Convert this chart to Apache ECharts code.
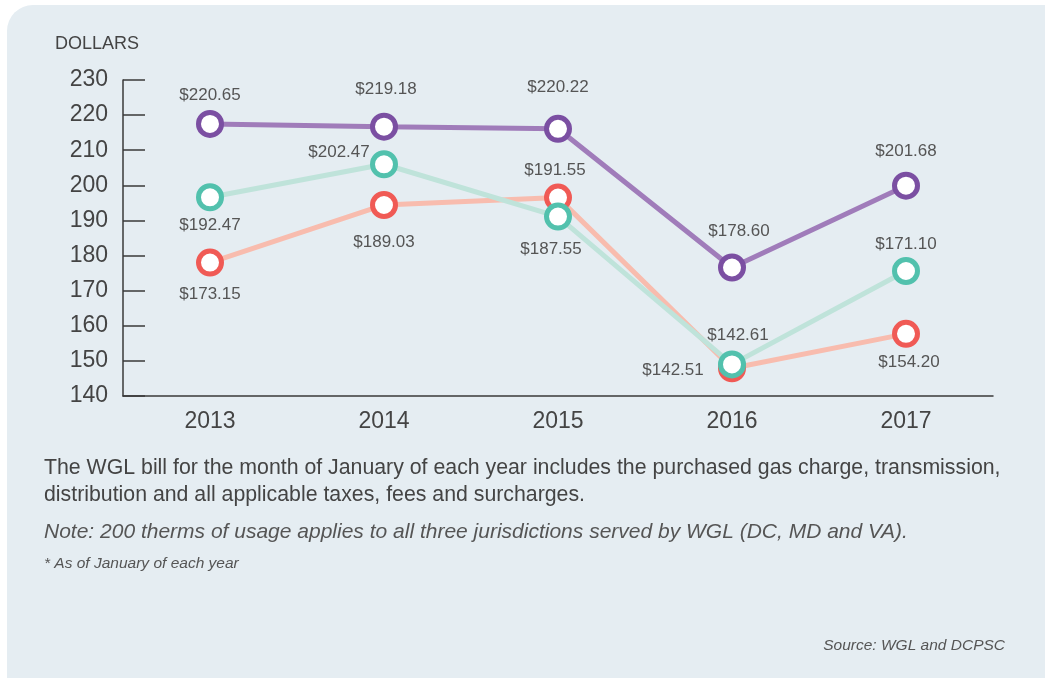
<!DOCTYPE html>
<html>
<head>
<meta charset="utf-8">
<script src="https://cdn.jsdelivr.net/npm/echarts@6/dist/echarts.min.js"></script>
<style>
  html, body { margin: 0; padding: 0; background: #ffffff; overflow: hidden; }
  .panel {
    position: absolute; left: 7px; top: 5px; width: 1080px; height: 720px;
    background: #e5edf2; border-radius: 26px;
  }
  #myLineChart { position: absolute; left: 0; top: 0; }
</style>
</head>
<body>
<div class="panel"></div>
<div id="myLineChart" style="width:1045px;height:678px;"></div>
<script>
  // data
  var years = ['2013', '2014', '2015', '2016', '2017'];
  var yTicks = [140, 150, 160, 170, 180, 190, 200, 210, 220, 230];

  // plotted positions
  var purpleData = [217.5, 216.7, 216.1, 176.6, 199.9];
  var tealData = [196.6, 206.0, 191.1, 149.0, 175.6];
  var redData = [178.0, 194.4, 196.5, 147.9, 157.7];

  // printed labels
  var purpleLabels = ['$220.65', '$219.18', '$220.22', '$178.60', '$201.68'];
  var tealLabels = ['$192.47', '$202.47', '$187.55', '$142.61', '$171.10'];
  var redLabels = ['$173.15', '$189.03', '$191.55', '$142.51', '$154.20'];

  // label placement (style, px from the point)
  var purpleOffs = [[0, -29], [2, -37], [0, -41], [7, -36], [0, -34]];
  var tealOffs = [[0, 28], [-45, -12], [-7, 33], [6, -29], [0, -27]];
  var redOffs = [[0, 32], [0, 37], [-3, -27], [-59, 2], [3, 28]];

  var FONT = '"Liberation Sans", Arial, sans-serif';

  function build(vals, texts, offs) {
    return vals.map(function (v, i) {
      return { value: v, label: { formatter: texts[i], offset: offs[i] } };
    });
  }

  function makeSeries(name, vals, texts, offs, dark, light) {
    return {
      name: name,
      type: 'line',
      data: build(vals, texts, offs),
      symbol: 'circle',
      symbolSize: 23,
      lineStyle: { width: 5, color: light },
      itemStyle: { color: '#ffffff', borderColor: dark, borderWidth: 5 },
      label: {
        show: true,
        position: 'inside',
        color: '#555555',
        fontSize: 17,
        fontFamily: FONT
      },
      emphasis: { disabled: true },
      animation: false
    };
  }

  var myLineChart = echarts.init(document.getElementById('myLineChart'));
  myLineChart.setOption({
    backgroundColor: 'transparent',
    grid: { left: 123, right: 52, top: 80, bottom: 282 },
    xAxis: {
      type: 'category',
      data: years,
      boundaryGap: true,
      axisLine: { lineStyle: { color: '#3a3a3a', width: 1.5 } },
      axisTick: { inside: true, length: 9, lineStyle: { color: '#3a3a3a', width: 1.5 } },
      axisLabel: { color: '#444444', fontSize: 23, fontFamily: FONT, margin: 14 }
    },
    yAxis: {
      type: 'value',
      min: yTicks[0],
      max: yTicks[yTicks.length - 1],
      interval: 10,
      axisLine: { show: true, lineStyle: { color: '#3a3a3a', width: 1.5 } },
      axisTick: { show: true, inside: true, length: 22, lineStyle: { color: '#3a3a3a', width: 1.5 } },
      axisLabel: { color: '#444444', fontSize: 23, fontFamily: FONT, margin: 15 },
      splitLine: { show: false }
    },
    graphic: [
      { type: 'text', left: 55, top: 35, style: { text: 'DOLLARS', font: '18px ' + FONT, fill: '#444444' } },
      { type: 'text', left: 44, top: 455, style: {
          text: 'The WGL bill for the month of January of each year includes the purchased gas charge, transmission,\ndistribution and all applicable taxes, fees and surcharges.',
          font: '21.3px ' + FONT, fill: '#444444', lineHeight: 27 } },
      { type: 'text', left: 44, top: 522, style: {
          text: 'Note: 200 therms of usage applies to all three jurisdictions served by WGL (DC, MD and VA).',
          font: 'italic 21px ' + FONT, fill: '#555555' } },
      { type: 'text', left: 44, top: 556, style: {
          text: '* As of January of each year', font: 'italic 15.5px ' + FONT, fill: '#555555' } },
      { type: 'text', right: 40, top: 638, style: {
          text: 'Source: WGL and DCPSC', font: 'italic 15.5px ' + FONT, fill: '#555555' } }
    ],
    series: [
      makeSeries('red', redData, redLabels, redOffs, '#f05a55', '#f8bcae'),
      makeSeries('teal', tealData, tealLabels, tealOffs, '#52c1ad', '#bfe3da'),
      makeSeries('purple', purpleData, purpleLabels, purpleOffs, '#7b4fa2', '#a07cba')
    ]
  });
</script>
</body>
</html>
